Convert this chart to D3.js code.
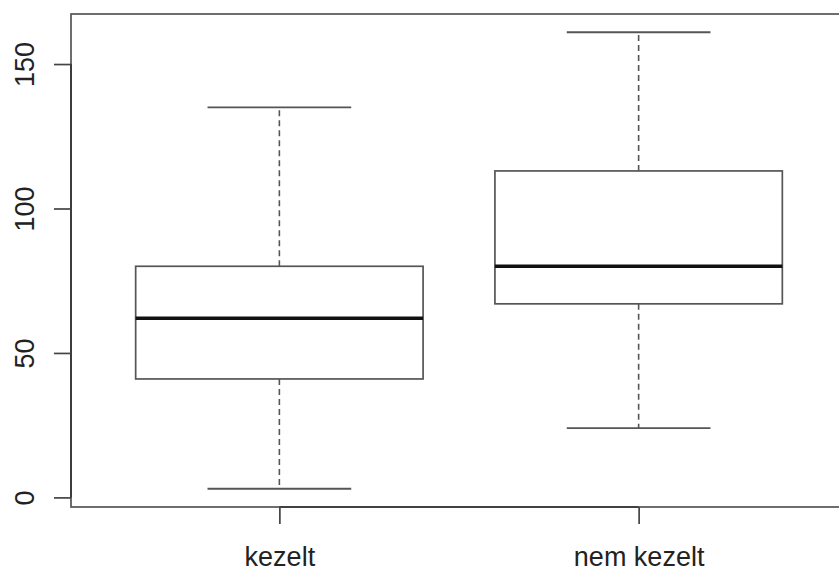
<!DOCTYPE html>
<html>
<head>
<meta charset="utf-8">
<script src="https://cdn.jsdelivr.net/npm/d3@7"></script>
<style>
  body { margin: 0; background: #fff; }
  svg { display: block; font-family: "Liberation Sans", Arial, sans-serif; }
</style>
</head>
<body>
<script>
// boxplot stats
const groups = ["kezelt", "nem kezelt"];
const whiskerLow = [3, 24];
const q1 = [41, 67];
const median = [62, 80];
const q3 = [80, 113];
const whiskerHigh = [135, 161];
const yTicks = [0, 50, 100, 150];

const width = 839, height = 572;
const plotLeft = 71, plotRight = 847, plotTop = 14, plotBottom = 507;
const fontSize = 27;
const ink = "#555";

const svg = d3.select("body").append("svg")
  .attr("width", width)
  .attr("height", height);

// R style range: data range stretched by 4% each side
const lo = d3.min(whiskerLow), hi = d3.max(whiskerHigh);
const pad = (hi - lo) * 0.04;
const y = d3.scaleLinear().domain([lo - pad, hi + pad]).range([plotBottom, plotTop]);
const x = d3.scaleLinear().domain([0.5 - 0.08, groups.length + 0.5 + 0.08]).range([plotLeft, plotRight]);

const boxHalf = 0.4;

const g = svg.append("g");

groups.forEach((name, i) => {
  const c = x(i + 1);
  const bl = x(i + 1 - boxHalf), br = x(i + 1 + boxHalf);
  const capL = x(i + 1 - boxHalf / 2), capR = x(i + 1 + boxHalf / 2);
  // whiskers
  g.append("line")
    .attr("x1", c).attr("x2", c)
    .attr("y1", y(q3[i])).attr("y2", y(whiskerHigh[i]))
    .attr("stroke", ink).attr("stroke-width", 1.6)
    .attr("stroke-dasharray", "6,4");
  g.append("line")
    .attr("x1", c).attr("x2", c)
    .attr("y1", y(q1[i])).attr("y2", y(whiskerLow[i]))
    .attr("stroke", ink).attr("stroke-width", 1.6)
    .attr("stroke-dasharray", "6,4");
  // caps
  [whiskerHigh[i], whiskerLow[i]].forEach(v => {
    g.append("line")
      .attr("x1", capL).attr("x2", capR)
      .attr("y1", y(v)).attr("y2", y(v))
      .attr("stroke", ink).attr("stroke-width", 1.8);
  });
  // box
  g.append("rect")
    .attr("x", bl).attr("y", y(q3[i]))
    .attr("width", br - bl).attr("height", y(q1[i]) - y(q3[i]))
    .attr("fill", "none").attr("stroke", ink).attr("stroke-width", 1.7);
  // median
  g.append("line")
    .attr("x1", bl).attr("x2", br)
    .attr("y1", y(median[i])).attr("y2", y(median[i]))
    .attr("stroke", "#111").attr("stroke-width", 3.5);
});

// frame
svg.append("rect")
  .attr("x", plotLeft).attr("y", plotTop)
  .attr("width", plotRight - plotLeft).attr("height", plotBottom - plotTop)
  .attr("fill", "none").attr("stroke", ink).attr("stroke-width", 1.7);

// y axis
const yAxis = svg.append("g")
  .attr("transform", `translate(${plotLeft},0)`)
  .call(d3.axisLeft(y).tickValues(yTicks).tickSize(17).tickFormat(d3.format("d")));
yAxis.select(".domain")
  .attr("d", `M0,${y(yTicks[0])}V${y(yTicks[yTicks.length - 1])}`)
  .attr("stroke", "#333").attr("stroke-width", 1.7);
yAxis.selectAll(".tick line").attr("stroke", "#444").attr("stroke-width", 1.7);
yAxis.selectAll(".tick text")
  .attr("x", null).attr("dy", null)
  .attr("transform", "translate(-37,0) rotate(-90)")
  .attr("text-anchor", "middle")
  .attr("font-family", "Liberation Sans, Arial, sans-serif")
  .attr("font-size", fontSize)
  .attr("fill", "#222");

// x axis
const xAxis = svg.append("g")
  .attr("transform", `translate(0,${plotBottom})`)
  .call(d3.axisBottom(x).tickValues(groups.map((d, i) => i + 1)).tickSize(17)
    .tickFormat((d) => groups[d - 1]));
xAxis.select(".domain")
  .attr("d", `M${x(1)},0H${x(groups.length)}`)
  .attr("stroke", "#333").attr("stroke-width", 1.7);
xAxis.selectAll(".tick line").attr("stroke", "#444").attr("stroke-width", 1.7);
xAxis.selectAll(".tick text")
  .attr("y", 59).attr("dy", null)
  .attr("font-family", "Liberation Sans, Arial, sans-serif")
  .attr("font-size", fontSize)
  .attr("fill", "#222");
</script>
</body>
</html>
